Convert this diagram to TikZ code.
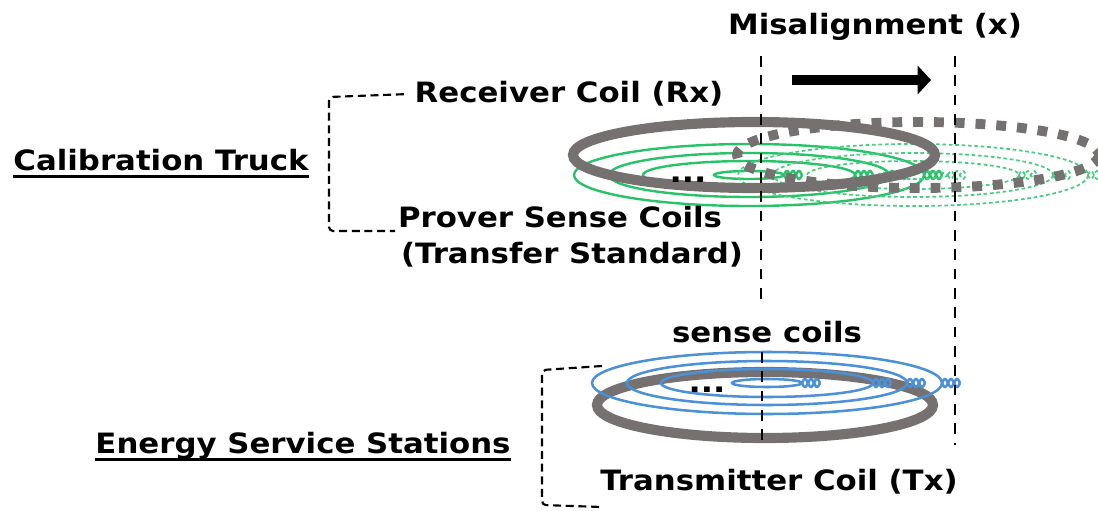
\documentclass[tikz,border=0pt]{standalone}
\usepackage{fontspec}
\setmainfont{DejaVu Sans}[FakeStretch=1.1]
\usetikzlibrary{arrows.meta}
\definecolor{ringgray}{HTML}{767171}
\definecolor{sensegreen}{RGB}{40,195,105}
\definecolor{senseblue}{RGB}{75,145,215}
\tikzset{
  lbl/.style={font=\bfseries\fontsize{21}{25}\selectfont, inner sep=0pt, anchor=base},
  ring/.style={draw=ringgray, line width=7.6pt},
  ghostring/.style={draw=ringgray, line width=7.4pt, dash pattern=on 7.4pt off 8.2pt},
  greencoil/.style={draw=sensegreen, line width=1.8pt},
  greenghost/.style={draw=sensegreen!85, line width=1.3pt, dash pattern=on 2.8pt off 2pt},
  bluecoil/.style={draw=senseblue, line width=1.9pt},
  guide/.style={draw=black, line width=1.9pt, dash pattern=on 8pt off 6.5pt},
  bracket/.style={draw=black, line width=1.6pt, dash pattern=on 6pt off 3.5pt, rounded corners=3pt},
  uline/.style={draw=black, line width=2.2pt},
  coildots/.style={font=\bfseries\fontsize{22}{25}\selectfont, inner sep=0pt},
  % concentric sense coils, each lead twisted out at the right end
  coilset/.pic={
    \foreach \rx/\ry in {35/4,106/14,140/22,175/31}{
      \draw (0,0) ellipse [x radius=\rx, y radius=\ry];
      \draw plot[domain=0:18, samples=31] ({\rx+\x},{4*sin(\x*30)});
      \draw plot[domain=0:18, samples=31] ({\rx+\x},{-4*sin(\x*30)});
    }
  },
}

\begin{document}
\begin{tikzpicture}[x=0.75pt, y=-0.75pt]
  \useasboundingbox (0,0) rectangle (1098,510);

  % receiver side: aligned (solid) and shifted (dashed) positions
  \pic[greencoil] at (749,175) {coilset};
  \pic[greenghost] at (913,175) {coilset};
  \draw[ring] (754,155) ellipse [x radius=181, y radius=33];
  \draw[ghostring] (918,155) ellipse [x radius=181, y radius=33];
  \node[coildots] (rxdots) at (688,180) {...};

  % transmitter side
  \draw[ring] (765,405) ellipse [x radius=168, y radius=33];
  \pic[bluecoil] at (767,383) {coilset};
  \node[coildots] (txdots) at (707,390) {...};

  % centre lines of both positions
  \coordinate (gl1) at (761,56);  \coordinate (gl2) at (761,300);
  \coordinate (gl3) at (762,352); \coordinate (gl4) at (762,445);
  \coordinate (gr1) at (955,56);  \coordinate (gr2) at (955,445);
  \draw[guide] (gl1) -- (gl2);
  \draw[guide] (gl3) -- (gl4);
  \draw[guide] (gr1) -- (gr2);

  % shift arrow
  \coordinate (mfrom) at (792,80);
  \coordinate (mto) at (931,80);
  \draw[line width=7.5pt, -{Triangle[length=10pt, width=21pt]}] (mfrom) -- (mto);

  % labels
  \node[lbl] (mis) at (875,35) {Misalignment (x)};
  \node[lbl] (rxlbl) at (569,103) {Receiver Coil (Rx)};
  \node[lbl] (prover) at (560,227) {Prover Sense Coils};
  \node[lbl] (xfer) at (572,263) {(Transfer Standard)};
  \node[lbl] (cal) at (161,170) {Calibration Truck};
  \node[lbl] (sense) at (767,342) {sense coils};
  \node[lbl] (ess) at (303,453) {Energy Service Stations};
  \node[lbl] (txlbl) at (779,490) {Transmitter Coil (Tx)};
  \draw[uline] ([yshift=-5pt]cal.base west) -- ([yshift=-5pt]cal.base east);
  \draw[uline] ([yshift=-5pt]ess.base west) -- ([yshift=-5pt]ess.base east);

  % brackets
  \draw[bracket] ([xshift=-8pt]rxlbl.west) -- (329,97) -- (329,231)
    -- ([xshift=-2pt,yshift=-3pt]prover.base west);
  \coordinate (essTop) at (602,366);
  \coordinate (essBot) at (602,507);
  \draw[bracket] (essTop) -- (542,370) -- (542,505) -- (essBot);
\end{tikzpicture}
\end{document}
